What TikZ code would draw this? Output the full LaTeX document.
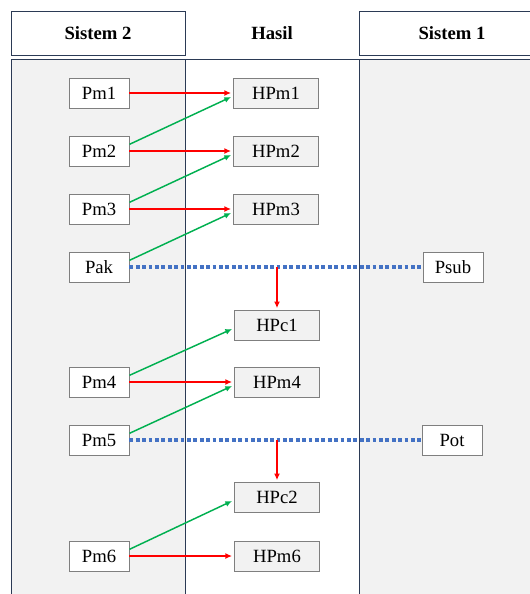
\documentclass[tikz,border=0pt]{standalone}
\usepackage{fontspec}
\setmainfont{Liberation Serif}
\usetikzlibrary{arrows.meta}

\definecolor{panelgray}{HTML}{F2F2F2}
\definecolor{framenavy}{HTML}{2B3A55}
\definecolor{boxgray}{HTML}{7F7F7F}
\definecolor{linkred}{HTML}{FF0000}
\definecolor{linkgreen}{HTML}{00B050}
\definecolor{linkblue}{HTML}{4472C4}

\begin{document}
\begin{tikzpicture}[x=0.75pt,y=-0.75pt,
        header/.style = {font=\bfseries\fontsize{14}{16}\selectfont},
        frame/.style = {draw=framenavy, line width=0.6pt},
        pmbox/.style = {draw=boxgray, fill=white, line width=0.7pt,
            minimum width=45pt, minimum height=22.5pt, inner sep=0pt,
            font=\fontsize{14}{16}\selectfont},
        hpbox/.style = {pmbox, fill=panelgray, minimum width=63.75pt},
        redlink/.style = {draw=linkred, line width=1.1pt, -{Latex[length=5pt,width=4.5pt]}},
        greenlink/.style = {draw=linkgreen, line width=1.1pt, -{Latex[length=5pt,width=4.5pt]}},
        bluelink/.style = {draw=linkblue, line width=2.3pt, dash pattern=on 2.8pt off 2pt}]
    \useasboundingbox (0,0) rectangle (530,594);
    \begin{scope}
        \clip (0,0) rectangle (530,594);
        % columns
        \draw[frame, fill=panelgray] (11,59) rectangle (185,610);
        \draw[frame, fill=white] (185,59) rectangle (359,610);
        \draw[frame, fill=panelgray] (359,59) rectangle (545,610);
        % headers
        \draw[frame] (11,11) rectangle (185,55);
        \draw[frame] (359,11) rectangle (545,55);
    \end{scope}
    \node[header] (s2) at (98,33) {Sistem 2};
    \node[header] (hasil) at (272,33) {Hasil};
    \node[header] (s1) at (452,33) {Sistem 1};

    % sistem 2
    \node[pmbox] (pm1) at (99,93) {Pm1};
    \node[pmbox] (pm2) at (99,151) {Pm2};
    \node[pmbox] (pm3) at (99,209) {Pm3};
    \node[pmbox] (pak) at (99,267) {Pak};
    \node[pmbox] (pm4) at (99,382) {Pm4};
    \node[pmbox] (pm5) at (99,440) {Pm5};
    \node[pmbox] (pm6) at (99,556) {Pm6};

    % hasil
    \node[hpbox] (hpm1) at (276,93) {HPm1};
    \node[hpbox] (hpm2) at (276,151) {HPm2};
    \node[hpbox] (hpm3) at (276,209) {HPm3};
    \node[hpbox] (hpc1) at (277,325) {HPc1};
    \node[hpbox] (hpm4) at (277,382) {HPm4};
    \node[hpbox] (hpc2) at (277,497) {HPc2};
    \node[hpbox] (hpm6) at (277,556) {HPm6};

    % sistem 1
    \node[pmbox] (psub) at (453,267) {Psub};
    \node[pmbox] (pot) at (452,440) {Pot};

    % links
    \draw[redlink] (pm1.east) -- ([xshift=-1.5pt]hpm1.west);
    \draw[redlink] (pm2.east) -- ([xshift=-1.5pt]hpm2.west);
    \draw[redlink] (pm3.east) -- ([xshift=-1.5pt]hpm3.west);
    \draw[redlink] (pm4.east) -- ([xshift=-1.5pt]hpm4.west);
    \draw[redlink] (pm6.east) -- ([xshift=-1.5pt]hpm6.west);

    \draw[greenlink] ([yshift=5pt]pm2.east) -- ([xshift=-1.5pt,yshift=-3pt]hpm1.west);
    \draw[greenlink] ([yshift=5pt]pm3.east) -- ([xshift=-1.5pt,yshift=-3pt]hpm2.west);
    \draw[greenlink] ([yshift=5pt]pak.east) -- ([xshift=-1.5pt,yshift=-3pt]hpm3.west);
    \draw[greenlink] ([yshift=5pt]pm4.east) -- ([xshift=-1.5pt,yshift=-3pt]hpc1.west);
    \draw[greenlink] ([yshift=5pt]pm5.east) -- ([xshift=-1.5pt,yshift=-3pt]hpm4.west);
    \draw[greenlink] ([yshift=5pt]pm6.east) -- ([xshift=-1.5pt,yshift=-3pt]hpc2.west);

    \draw[bluelink] (pak.east) -- (psub.west);
    \draw[bluelink] (pm5.east) -- (pot.west);

    \coordinate (drop1) at (hpc1.north |- pak.east);
    \coordinate (drop2) at (hpc2.north |- pm5.east);
    \draw[redlink] (drop1) -- ([yshift=1pt]hpc1.north);
    \draw[redlink] (drop2) -- ([yshift=1pt]hpc2.north);
\end{tikzpicture}
\end{document}
